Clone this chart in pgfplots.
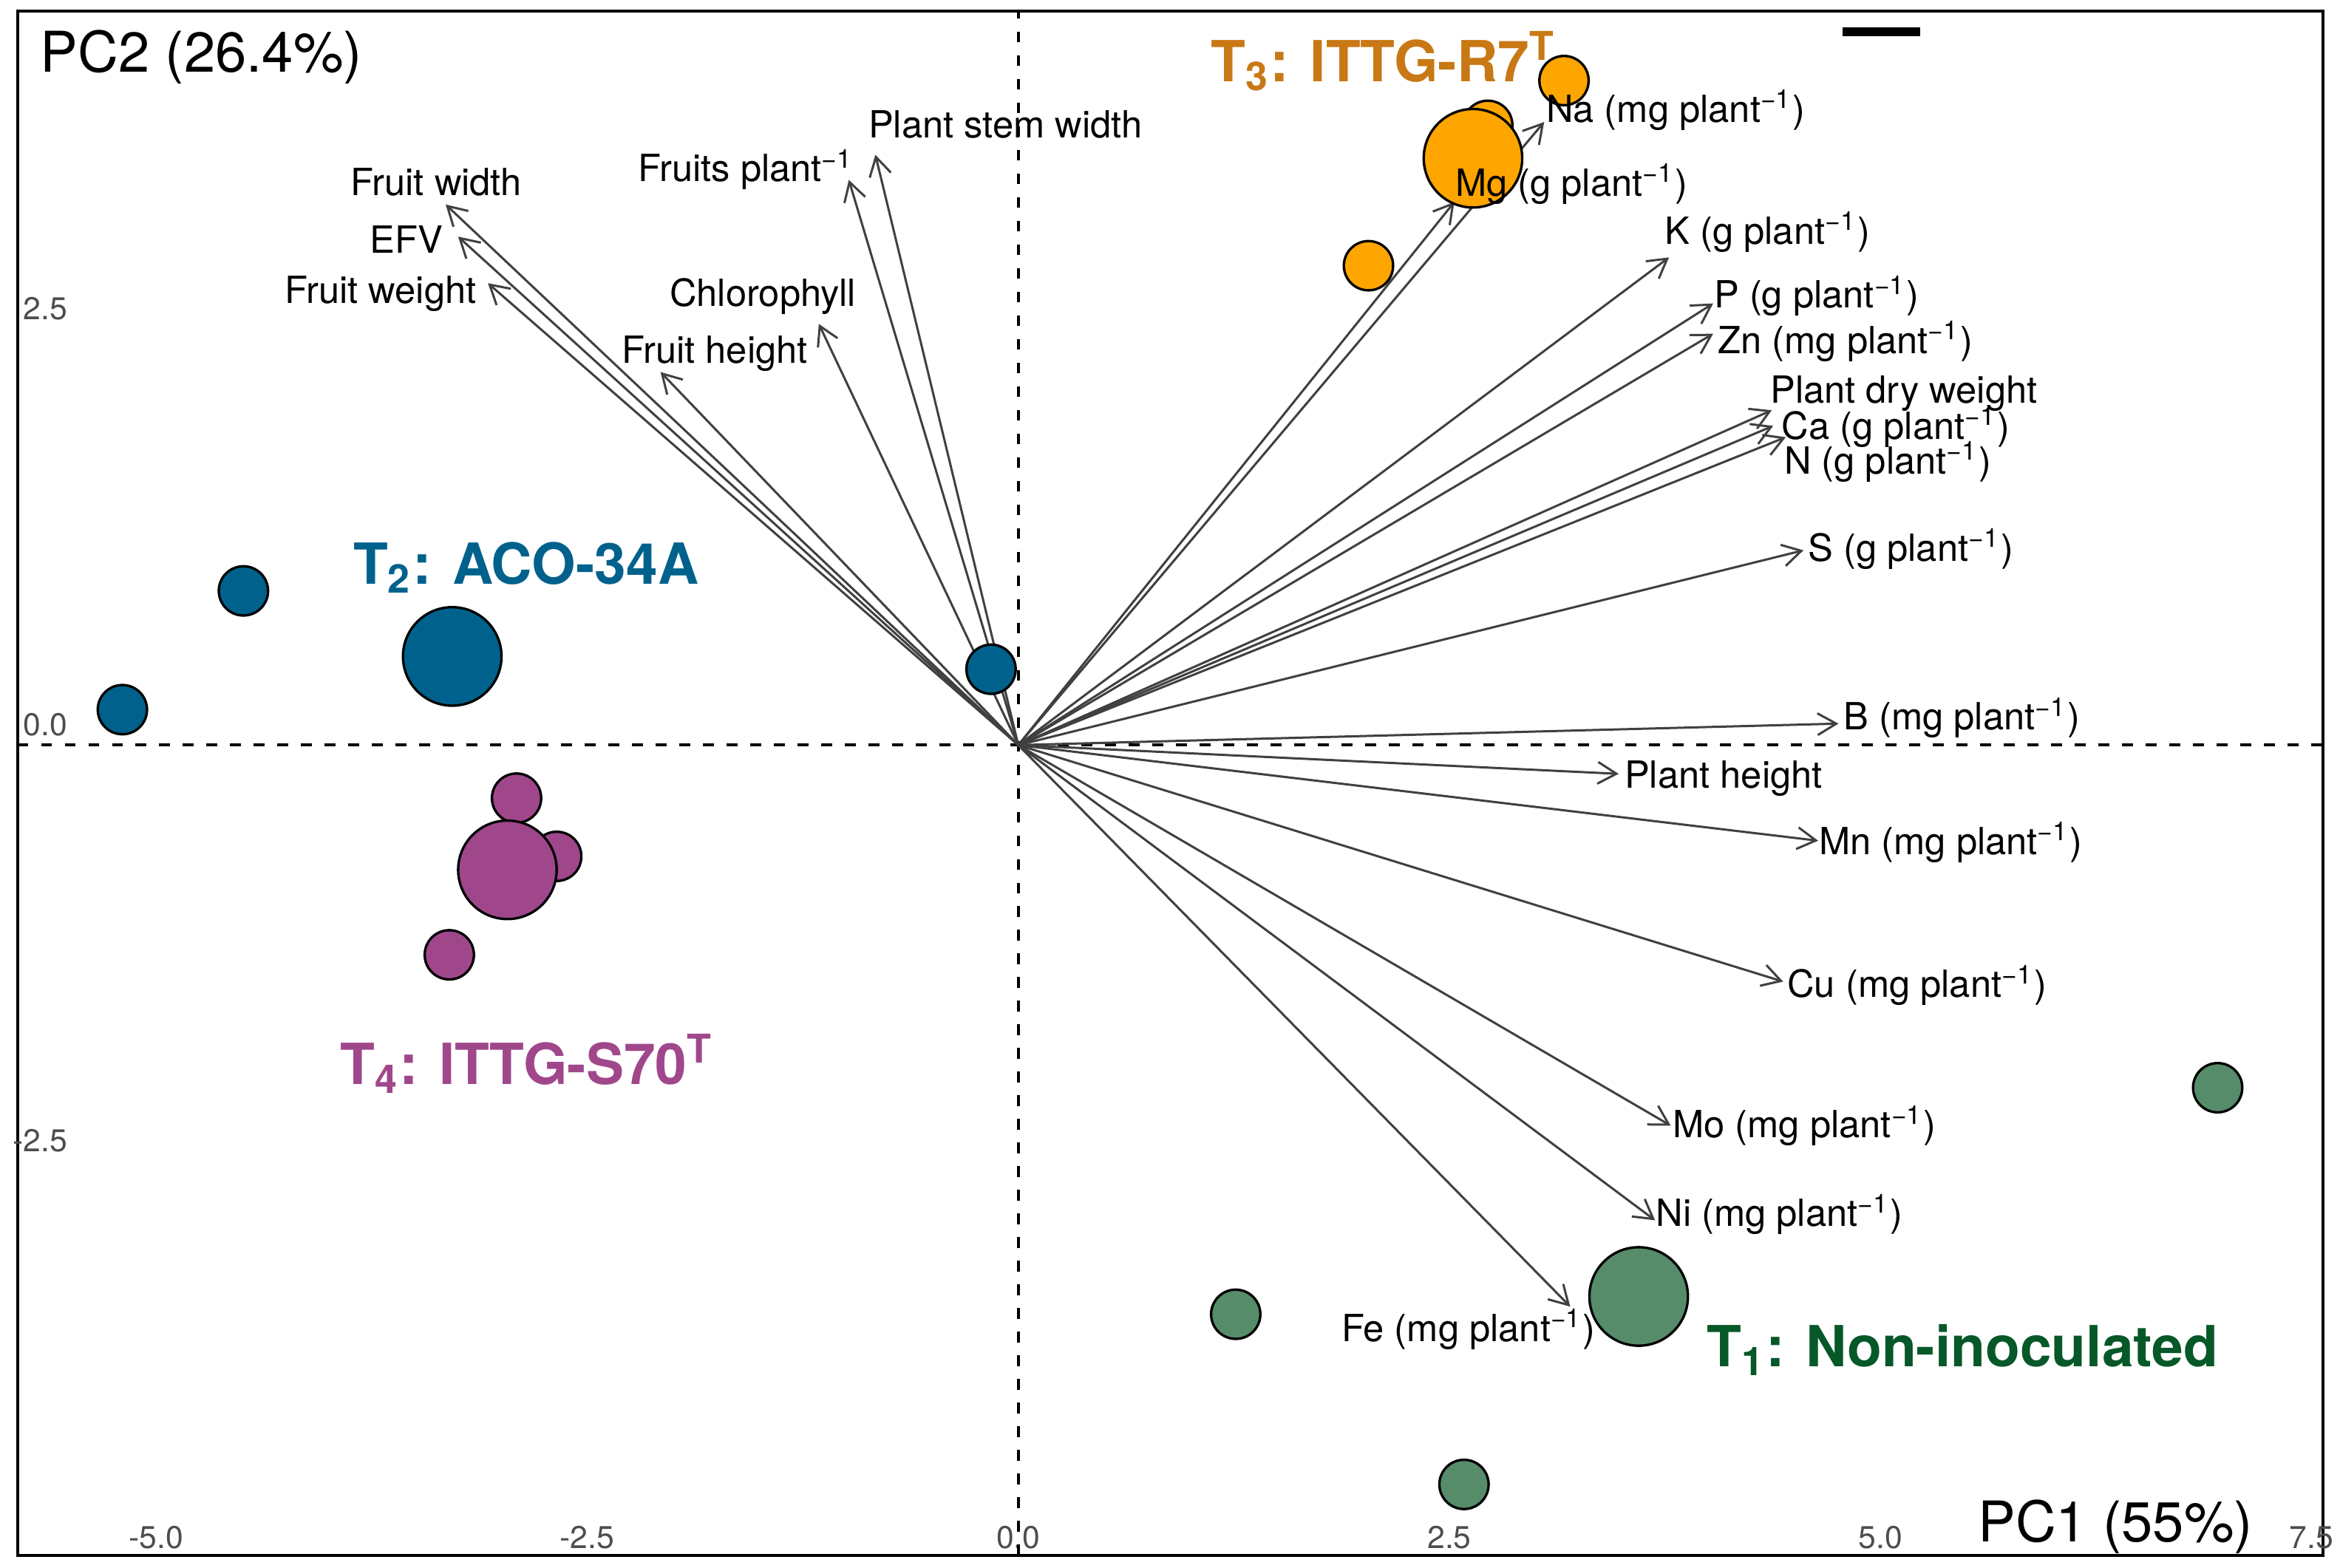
\documentclass[border=0pt]{standalone}
\usepackage{fontspec}
\setmainfont{TeX Gyre Heros}
\usepackage{pgfplots}
\pgfplotsset{compat=1.18}
\usetikzlibrary{arrows.meta, calc}

\definecolor{tonefill}{RGB}{86,140,105}
\definecolor{tonetext}{RGB}{6,88,40}
\definecolor{ttwo}{RGB}{0,98,140}
\definecolor{tthreefill}{RGB}{255,165,0}
\definecolor{tthreetext}{RGB}{200,120,20}
\definecolor{tfour}{RGB}{160,71,140}
\definecolor{arrowgray}{RGB}{64,64,64}
\definecolor{tickgray}{RGB}{77,77,77}

% loadings: arrows from the origin
\pgfplotstableread{
x y u v
0 0 -3.321 3.250
0 0 -3.249 3.057
0 0 -3.076 2.777
0 0 -0.983 3.398
0 0 -0.829 3.549
0 0 -1.157 2.532
0 0 -2.075 2.243
0 0 3.050 3.746
0 0 2.529 3.265
0 0 3.774 2.932
0 0 4.030 2.655
0 0 4.030 2.473
0 0 4.370 2.013
0 0 4.378 1.919
0 0 4.451 1.851
0 0 4.554 1.171
0 0 4.757 0.129
0 0 3.482 -0.173
0 0 4.639 -0.575
0 0 4.436 -1.422
0 0 3.784 -2.288
0 0 3.693 -2.857
0 0 3.201 -3.376
}\loadings

\begin{document}
\begin{tikzpicture}[
  labW/.style={anchor=base west, inner sep=0pt, font=\fontsize{7.6bp}{9bp}\selectfont},
  labC/.style={anchor=base, inner sep=0pt, font=\fontsize{7.6bp}{9bp}\selectfont},
  grp/.style={anchor=base west, inner sep=0pt, font=\fontsize{11.5bp}{13bp}\selectfont\bfseries}
]
\begin{axis}[
  set layers=standard,
  scale only axis, width=468bp, height=313.56bp,
  xmin=-5.805, xmax=7.567, ymin=-4.872, ymax=4.413,
  clip=false,
  axis line style={line width=0.6bp},
  xtick={-5,-2.5,0,2.5,5,7.5}, ytick={-2.5,0,2.5},
  major tick length=0pt,
  tick label style={font=\fontsize{6.4bp}{7bp}\selectfont, text=tickgray, inner sep=0pt},
  xticklabel style={anchor=base, yshift=1.5bp},
  yticklabel style={anchor=base east, xshift=10.3bp, yshift=1.9bp},
  /pgf/number format/.cd, fixed, fixed zerofill, precision=1, assume math mode=true,
  /pgfplots/.cd,
  xlabel={PC1 (55\%)}, ylabel={PC2 (26.4\%)},
  every axis x label/.style={at={(axis description cs:0.850,0.0087)}, anchor=base west, inner sep=0pt, font=\fontsize{11.4bp}{13bp}\selectfont},
  every axis y label/.style={at={(axis description cs:0.00964,0.9604)}, anchor=base west, inner sep=0pt, font=\fontsize{11.4bp}{13bp}\selectfont},
]
\coordinate (sw) at (rel axis cs:0,0);
\coordinate (ne) at (rel axis cs:1,1);

% reference lines
\addplot[on layer=pre main, black, line width=0.55bp, dash pattern=on 2.2bp off 2.6bp] coordinates {(-5.805,0) (7.567,0)};
\addplot[on layer=pre main, black, line width=0.55bp, dash pattern=on 2.2bp off 2.6bp] coordinates {(0,-4.872) (0,4.413)};
\addplot[black, line width=1.9bp] coordinates {(4.781,4.288) (5.232,4.288)};

% scores, small = samples, large = group centroid
\addplot[on layer=pre main, only marks, mark=*, mark size=5bp, mark options={fill=ttwo, draw=black, line width=0.5bp}] coordinates {(-4.494,0.927) (-5.196,0.213) (-0.158,0.456)};
\addplot[on layer=pre main, only marks, mark=*, mark size=10bp, mark options={fill=ttwo, draw=black, line width=0.5bp}] coordinates {(-3.283,0.533)};
\addplot[on layer=pre main, only marks, mark=*, mark size=5bp, mark options={fill=tfour, draw=black, line width=0.5bp}] coordinates {(-2.910,-0.319) (-2.677,-0.669) (-3.300,-1.261)};
\addplot[on layer=pre main, only marks, mark=*, mark size=10bp, mark options={fill=tfour, draw=black, line width=0.5bp}] coordinates {(-2.963,-0.750)};
\addplot[on layer=pre main, only marks, mark=*, mark size=5bp, mark options={fill=tthreefill, draw=black, line width=0.5bp}] coordinates {(3.165,3.995) (2.723,3.726) (2.031,2.882)};
\addplot[on layer=pre main, only marks, mark=*, mark size=10bp, mark options={fill=tthreefill, draw=black, line width=0.5bp}] coordinates {(2.637,3.528)};
\addplot[on layer=pre main, only marks, mark=*, mark size=5bp, mark options={fill=tonefill, draw=black, line width=0.5bp}] coordinates {(6.956,-2.060) (1.261,-3.422) (2.585,-4.445)};
\addplot[on layer=pre main, only marks, mark=*, mark size=10bp, mark options={fill=tonefill, draw=black, line width=0.5bp}] coordinates {(3.598,-3.315)};

% variable arrows
\addplot[on layer=main, arrowgray, line width=0.45bp, quiver={u=\thisrow{u}, v=\thisrow{v}},
  -{Straight Barb[length=3.8bp, width=4.4bp]}] table {\loadings};

\begin{pgfonlayer}{axis foreground}
% variable labels
\node[labC] at (axis cs:-3.376,3.305) {Fruit width};
\node[labC] at (axis cs:-3.549,2.957) {EFV};
\node[labC] at (axis cs:-3.699,2.657) {Fruit weight};
\node[labC] at (axis cs:-1.579,3.387) {Fruits plant\textsuperscript{−1}};
\node[labC] at (axis cs:-0.075,3.649) {Plant stem width};
\node[labC] at (axis cs:-1.482,2.640) {Chlorophyll};
\node[labC] at (axis cs:-1.761,2.295) {Fruit height};
\node[labW] at (axis cs:3.058,3.746) {Na (mg plant\textsuperscript{−1})};
\node[labW] at (axis cs:2.529,3.301) {Mg (g plant\textsuperscript{−1})};
\node[labW] at (axis cs:3.744,3.013) {K (g plant\textsuperscript{−1})};
\node[labW] at (axis cs:4.030,2.628) {P (g plant\textsuperscript{−1})};
\node[labW] at (axis cs:4.053,2.354) {Zn (mg plant\textsuperscript{−1})};
\node[labW] at (axis cs:4.356,2.055) {Plant dry weight};
\node[labW] at (axis cs:4.422,1.838) {Ca (g plant\textsuperscript{−1})};
\node[labW] at (axis cs:4.437,1.630) {N (g plant\textsuperscript{−1})};
\node[labW] at (axis cs:4.576,1.107) {S (g plant\textsuperscript{−1})};
\node[labW] at (axis cs:4.781,0.091) {B (mg plant\textsuperscript{−1})};
\node[labW] at (axis cs:3.511,-0.259) {Plant height};
\node[labW] at (axis cs:4.639,-0.659) {Mn (mg plant\textsuperscript{−1})};
\node[labW] at (axis cs:4.455,-1.517) {Cu (mg plant\textsuperscript{−1})};
\node[labW] at (axis cs:3.791,-2.361) {Mo (mg plant\textsuperscript{−1})};
\node[labW] at (axis cs:3.693,-2.895) {Ni (mg plant\textsuperscript{−1})};
\node[labC] at (axis cs:2.611,-3.584) {Fe (mg plant\textsuperscript{−1})};

% group labels
\node[grp, text=tthreetext] at (axis cs:1.114,3.990) {T\textsubscript{3}: ITTG-R7\textsuperscript{T}};
\node[grp, text=ttwo] at (axis cs:-3.862,0.967) {T\textsubscript{2}: ACO-34A};
\node[grp, text=tfour] at (axis cs:-3.937,-2.038) {T\textsubscript{4}: ITTG-S70\textsuperscript{T}};
\node[grp, text=tonetext] at (axis cs:3.987,-3.739) {T\textsubscript{1}: Non-inoculated};
\end{pgfonlayer}
\end{axis}
\pgfresetboundingbox
\path[use as bounding box] ($(sw)+(-3.53bp,-2.55bp)$) rectangle ($(ne)+(3.45bp,2.25bp)$);
\end{tikzpicture}
\end{document}
